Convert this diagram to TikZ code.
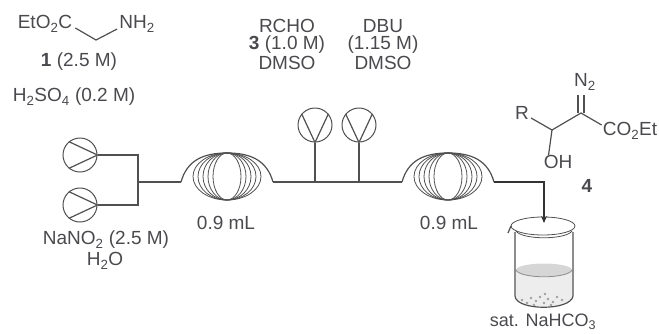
\documentclass[tikz,border=0pt]{standalone}
\usepackage{fontspec}
\setmainfont{Liberation Sans}
\usetikzlibrary{arrows.meta,calc}
\definecolor{ink}{HTML}{4A4A4E}
\definecolor{tubing}{HTML}{505050}
\tikzset{
  tube/.style={draw=tubing, line width=1.2pt},
  winding/.style={draw=tubing, line width=0.8pt},
  pump/.style={circle, draw=tubing, line width=1pt, fill=white, minimum size=34pt, inner sep=0pt},
  lab/.style={text=ink, inner sep=0pt, font=\fontsize{19}{20}\selectfont},
  flow/.style={-{Stealth[length=7pt,width=6pt]}, draw=black!80, line width=1.5pt},
  bond/.style={draw=tubing, line width=1.2pt},
}
\begin{document}
\begin{tikzpicture}[x=1pt,y=-1pt]
  \useasboundingbox (0,0) rectangle (659,333);

  % glycine ester feed
  \node[lab] (ester) at (45,24) {EtO\textsubscript{2}C};
  \node[lab] (amine) at (137,24) {NH\textsubscript{2}};
  \coordinate (ch) at (96,40);
  \draw[bond] (ester.east) ++(3,4) -- (ch) -- ($(amine.west)+(-2,5)$);
  \node[lab] (conca) at (79,62) {\textbf{1} (2.5 M)};
  \node[lab] (acid) at (74,97) {H\textsubscript{2}SO\textsubscript{4} (0.2 M)};

  % aldehyde and base feeds
  \node[lab] (rcho) at (287,26) {RCHO};
  \node[lab] (concb) at (287,45) {\textbf{3} (1.0 M)};
  \node[lab] (dmsoa) at (287,63) {DMSO};
  \node[lab] (dbu) at (383,26) {DBU};
  \node[lab] (concc) at (383,45) {(1.15 M)};
  \node[lab] (dmsob) at (383,63) {DMSO};

  % nitrite labels
  \node[lab] (nitrite) at (106,240) {NaNO\textsubscript{2} (2.5 M)};
  \node[lab] (water) at (105,261) {H\textsubscript{2}O};

  % coils
  \foreach \cx/\nm in {227/a,448/b}{
    \begin{scope}[shift={(\cx,176.5)}]
      \coordinate (coil\nm) at (0,0);
      \coordinate (in\nm) at (-46,5.5);
      \coordinate (out\nm) at (46,5.5);
      \foreach \rx in {14,19,24,29,34}{
        \draw[winding] (0,0) ellipse [x radius=\rx, y radius=23.5];
      }
      \draw[tube] (-46,5.5) .. controls (-40,-16) and (-24,-23.5) .. (0,-23.5)
        .. controls (24,-23.5) and (40,-16) .. (46,5.5);
    \end{scope}
  }
  \node[lab] (vola) at (226,223) {0.9 mL};
  \node[lab] (volb) at (449,223) {0.9 mL};

  % pumps
  \node[pump] (pa) at (80,155) {};
  \node[pump] (pb) at (80,205) {};
  \node[pump] (pc) at (315,125) {};
  \node[pump] (pd) at (359,125) {};
  \foreach \p in {pa,pb}{
    \draw[tube] (\p.east) -- (\p.130) (\p.east) -- (\p.230);
  }
  \foreach \p in {pc,pd}{
    \draw[tube] (\p.south) -- (\p.140) (\p.south) -- (\p.40);
  }

  % tubing
  \coordinate (jn) at (138,182);
  \coordinate (tc) at (315,182);
  \coordinate (td) at (359,182);
  \coordinate (drop) at (544,223);
  \draw[tube] (pa.east) -| (jn) |- (pb.east);
  \draw[tube] (jn) -- (ina);
  \draw[tube] (outa) -- (inb);
  \draw[tube] (pc.south) -- (tc);
  \draw[tube] (pd.south) -- (td);

  % beaker
  \fill[gray!14] (516,270) -- (516,296) .. controls (517,310) and (570,310) .. (572,296) -- (572,270) -- cycle;
  \fill[gray!32] (544,270) ellipse [x radius=28, y radius=6.5];
  \draw[winding, draw=black!45] (516,270) .. controls (520,279) and (568,279) .. (572,270);
  \foreach \dx/\dy in {522/300,527/303,531/298,536/301,540/297,544/303,548/299,553/302,557/297,562/300,534/305,551/305,545/294}{
    \fill[gray!75] (\dx,\dy) circle [radius=1.3];
  }
  \draw[bond] (515,232) -- (515,296) .. controls (516,311) and (571,311) .. (573,296) -- (573,232);
  \draw[winding] (543,226) ellipse [x radius=32, y radius=9];
  \draw[winding] (516,231) .. controls (522,240) and (566,240) .. (572,231);
  \draw[bond] (511,226) -- (508,233);
  \node[lab, font=\fontsize{18}{20}\selectfont] (salt) at (543,322) {sat. NaHCO\textsubscript{3}};
  \draw[flow] (outb) -| (drop);

  % diazo product
  \node[lab] (rgroup) at (522,113) {R};
  \node[lab] (diazo) at (585,82) {N\textsubscript{2}};
  \node[lab] (carbox) at (630,131) {CO\textsubscript{2}Et};
  \node[lab] (hydroxy) at (558,162) {OH};
  \node[lab] (prod) at (587,186) {\textbf{4}};
  \coordinate (choh) at (552,130);
  \coordinate (cn) at (581,113);
  \draw[bond] (rgroup.east) ++(2,5) -- (choh) -- (cn) -- ($(carbox.west)+(-1,-6)$);
  \draw[bond] (choh) -- ($(hydroxy.north west)+(5,0)$);
  \draw[bond] (578,113) -- (578,95) (584,113) -- (584,95);
\end{tikzpicture}
\end{document}
